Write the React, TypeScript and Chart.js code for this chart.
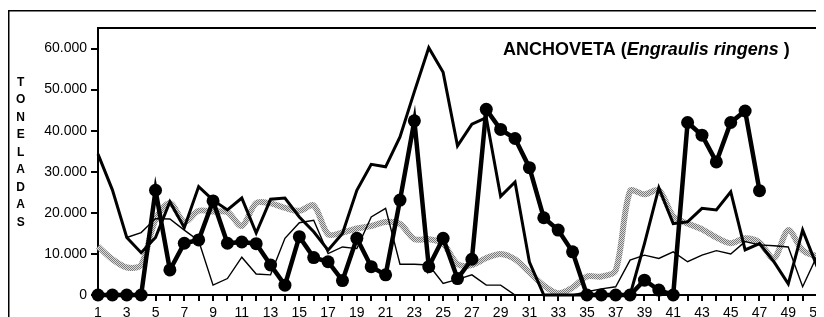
import React, { useEffect, useRef } from 'react';
import { Chart, registerables } from 'chart.js';
Chart.register(...registerables);

// Semanas (categorías)
const weeks = ['1','2','3','4','5','6','7','8','9','10','11','12','13','14','15','16','17','18','19','20','21','22','23','24','25','26','27','28','29','30','31','32','33','34','35','36','37','38','39','40','41','42','43','44','45','46','47','48','49','50','51','52'];

// Serie con marcadores (línea gruesa)
const serieMarcadores = [0,0,0,0,25500,6100,12600,13400,22900,12600,12900,12500,7300,2400,14200,9100,8100,3500,13800,6900,4900,23100,42400,6900,13800,4000,8700,45200,40300,38100,31000,18800,15800,10500,0,0,0,0,3600,1200,0,42000,38900,32400,42000,44800,25400,null,null,null,null,null];

// Serie línea media
const serieMedia = [34300,25600,14000,10300,14000,22700,16400,26400,23100,20700,23600,15100,23300,23600,19000,15400,10900,15000,25500,31800,31200,38500,49500,60200,54200,36300,41600,43200,24000,27500,8000,0,0,0,0,0,0,0,12500,26100,17400,17800,21100,20700,25100,11000,12500,8100,2700,15800,7000,2000];

// Serie línea fina
const serieFina = [null,null,14000,15200,18600,18500,15800,13200,2400,4000,9200,5100,4900,13800,17600,18200,10100,11700,11300,19000,21100,7500,7500,7300,2800,3800,4900,2400,2400,0,0,0,0,0,800,1500,2000,8500,9700,8900,10500,8100,9700,10800,10000,13000,12200,12000,11700,2000,9500,10000];

// Serie gris (trama)
const serieGris = [11800,8700,6700,7300,18400,22400,17800,20500,20300,20200,16800,22400,22300,21200,20500,21800,14800,15200,16200,16800,17800,17300,13600,13600,12500,7500,7300,9000,10000,8700,5500,2300,400,1800,4500,4500,6000,25300,24500,25500,19200,17400,16000,14000,12600,13800,12800,8900,15800,10900,9500,9500];

const yTickValues = [0, 10000, 20000, 30000, 40000, 50000, 60000];
const yMax = 65000;
const titleMain = 'ANCHOVETA (';
const titleSpecies = 'Engraulis ringens';
const titleEnd = ' )';
const yTitle = 'TONELADAS';

const FONT = 'Arial, "Liberation Sans", sans-serif';

function fmt(v: number): string {
  if (v === 0) return '0';
  return Math.round(v / 1000) + '.000';
}

export default function App() {
  const ref = useRef<HTMLCanvasElement>(null);
  useEffect(() => {
    const canvas = ref.current!;
    const pc = document.createElement('canvas');
    pc.width = 2; pc.height = 2;
    const p = pc.getContext('2d')!;
    p.fillStyle = '#dcdcdc'; p.fillRect(0, 0, 2, 2);
    p.fillStyle = '#7a7a7a'; p.fillRect(0, 0, 1, 1); p.fillRect(1, 1, 1, 1);
    const pattern = canvas.getContext('2d')!.createPattern(pc, 'repeat');

    const decor = {
      id: 'decor',
      beforeDraw(chart: any) {
        const { ctx, chartArea: a } = chart;
        ctx.save();
        ctx.strokeStyle = '#000';
        ctx.lineWidth = 1.5;
        ctx.strokeRect(0.75, 2.75, chart.width + 20, chart.height + 20);
        ctx.lineWidth = 2;
        ctx.strokeRect(a.left, a.top, a.right - a.left, a.bottom - a.top);
        ctx.restore();
      },
      afterDraw(chart: any) {
        const { ctx } = chart;
        ctx.save();
        ctx.fillStyle = '#000';
        ctx.textBaseline = 'alphabetic';
        ctx.textAlign = 'left';
        let x = 495;
        const y = 47;
        ctx.font = 'bold 18px ' + FONT;
        ctx.fillText(titleMain, x, y);
        x += ctx.measureText(titleMain).width;
        ctx.font = 'italic bold 18px ' + FONT;
        ctx.fillText(titleSpecies, x, y);
        x += ctx.measureText(titleSpecies).width;
        ctx.font = 'bold 18px ' + FONT;
        ctx.fillText(titleEnd, x, y);
        ctx.font = 'bold 12px ' + FONT;
        ctx.textAlign = 'center';
        for (let i = 0; i < yTitle.length; i++) {
          ctx.fillText(yTitle[i], 12.7, 78 + 17.45 * i);
        }
        ctx.restore();
      },
    };

    const chart = new Chart(canvas, {
      type: 'line',
      data: {
        labels: weeks,
        datasets: [
          {
            data: serieMarcadores,
            borderColor: '#000',
            backgroundColor: '#000',
            borderWidth: 4.5,
            pointRadius: 6.5,
            pointBorderWidth: 0,
            pointBackgroundColor: '#000',
            tension: 0,
            order: 0,
            clip: false,
          },
          {
            data: serieMedia,
            borderColor: '#000',
            borderWidth: 3,
            pointRadius: 0,
            tension: 0,
            order: 1,
            clip: false,
          },
          {
            data: serieFina,
            borderColor: '#000',
            borderWidth: 1.4,
            pointRadius: 0,
            tension: 0,
            order: 2,
            clip: false,
          },
          {
            data: serieGris,
            borderColor: pattern as any,
            borderWidth: 6,
            pointRadius: 0,
            tension: 0.3,
            order: 3,
            clip: false,
          },
        ],
      },
      options: {
        responsive: false,
        animation: false,
        events: [],
        layout: { padding: { top: 20, left: 0, right: 16.6, bottom: 3 } },
        plugins: { legend: { display: false }, tooltip: { enabled: false }, title: { display: false } },
        scales: {
          x: {
            offset: false,
            afterFit: (s: any) => { s.height = 30; },
            grid: { drawOnChartArea: false, drawTicks: true, tickLength: 6, lineWidth: 2, tickWidth: 2, color: '#000', offset: false },
            border: { display: true, width: 2, color: '#000' },
            ticks: {
              autoSkip: false,
              maxRotation: 0,
              minRotation: 0,
              padding: 4,
              color: '#000',
              font: { family: FONT, size: 14 },
              callback: (_v: any, i: number) => (i % 2 === 0 ? weeks[i] : ''),
            },
          },
          y: {
            min: 0,
            max: yMax,
            afterFit: (s: any) => { s.width = 90; },
            afterBuildTicks: (s: any) => { s.ticks = yTickValues.map((v) => ({ value: v })); },
            grid: { drawOnChartArea: false, drawTicks: true, tickLength: 7, lineWidth: 2, tickWidth: 2, color: '#000' },
            border: { display: true, width: 2, color: '#000' },
            ticks: {
              padding: 4,
              color: '#000',
              font: { family: FONT, size: 14 },
              callback: (v: any) => fmt(Number(v)),
            },
          },
        },
      },
      plugins: [decor],
    });
    return () => chart.destroy();
  }, []);
  return (
    <div style={{ width: 816, height: 309, overflow: 'hidden' }}>
      <canvas ref={ref} width={840} height={320} style={{ display: 'block' }} />
    </div>
  );
}
